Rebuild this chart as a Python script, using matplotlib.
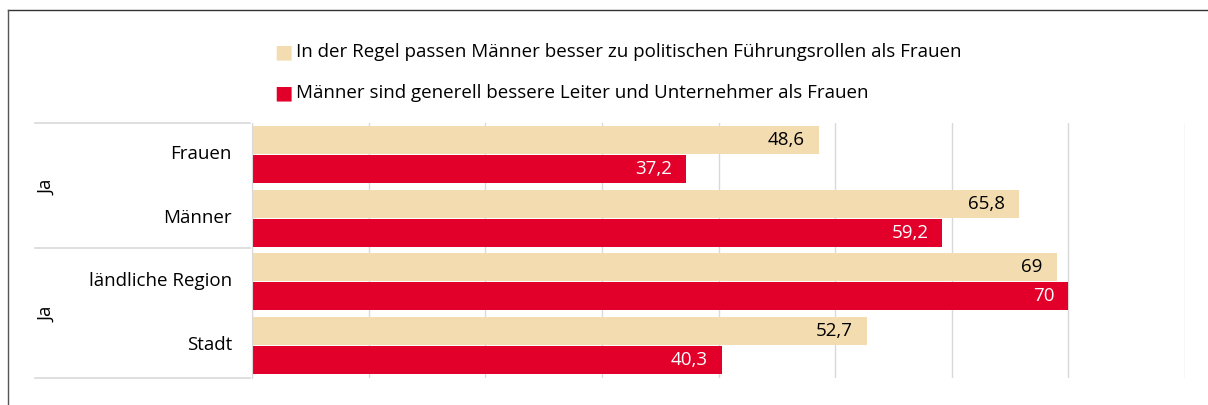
import matplotlib.pyplot as plt
from matplotlib.lines import Line2D

plt.rcParams['font.family'] = ['Open Sans', 'DejaVu Sans']

# data
categories = ['Frauen', 'Männer', 'ländliche Region', 'Stadt']
groups = ['Ja', 'Ja']
series_names = ['In der Regel passen Männer besser zu politischen Führungsrollen als Frauen',
                'Männer sind generell bessere Leiter und Unternehmer als Frauen']
politik = [48.6, 65.8, 69, 52.7]
leiter = [37.2, 59.2, 70, 40.3]
beige = '#F2DCB0'
red = '#E2002B'

W, H = 1208, 405
fig = plt.figure(figsize=(W / 100, H / 100), dpi=100)
ax = fig.add_axes([252 / W, 1 - 378 / H, 933 / W, 255 / H])

bh = 0.44
ys = list(range(len(categories)))
b1 = ax.barh([y - bh / 2 - 0.015 for y in ys], politik, height=bh, color=beige)
b2 = ax.barh([y + bh / 2 for y in ys], leiter, height=bh, color=red)

for bar, v in zip(b1, politik):
    ax.text(bar.get_width() - 1.2, bar.get_y() + bar.get_height() / 2, f'{v:g}'.replace('.', ','),
            ha='right', va='center', fontsize=13.5, color='black')
for bar, v in zip(b2, leiter):
    ax.text(bar.get_width() - 1.2, bar.get_y() + bar.get_height() / 2, f'{v:g}'.replace('.', ','),
            ha='right', va='center', fontsize=13.5, color='white')

ax.set_xlim(0, 80)
ax.set_ylim(3.5, -0.5)
ax.set_xticks(range(0, 81, 10))
ax.xaxis.grid(True, color='#D9D9D9', lw=1)
ax.set_axisbelow(True)
ax.tick_params(left=False, bottom=False, labelbottom=False, labelleft=False)
for s in ['top', 'right', 'bottom']:
    ax.spines[s].set_visible(False)
ax.spines['left'].set_color('#D9D9D9')

# category labels
for y, c in zip(ys, categories):
    fig.text(232 / W, 1 - (123 + 63.75 * y + 31) / H, c, ha='right', va='center', fontsize=13.5)
for i, g in enumerate(groups):
    fig.text(47 / W, 1 - (123 + 127.5 * i + 64) / H, g, ha='center', va='center', rotation=90, fontsize=13.5)

# left table lines
for yy in [123, 248, 378]:
    fig.add_artist(Line2D([35 / W, 250 / W], [1 - yy / H, 1 - yy / H], color='#D9D9D9', lw=1.2))

# legend
for i, (name, col) in enumerate(zip(series_names, [beige, red])):
    yy = 1 - (52 + 41 * i) / H
    fig.text(283 / W, yy, '\u25A0', color=col, fontsize=14, ha='center', va='center', family='DejaVu Sans')
    fig.text(296 / W, yy, name, ha='left', va='center', fontsize=13.5)

# outer frame
fig.add_artist(Line2D([8 / W, 1], [1 - 10 / H, 1 - 10 / H], color='#333333', lw=1))
fig.add_artist(Line2D([8 / W, 8 / W], [0, 1 - 10 / H], color='#555555', lw=1))

fig.savefig('out.png', dpi=100)
